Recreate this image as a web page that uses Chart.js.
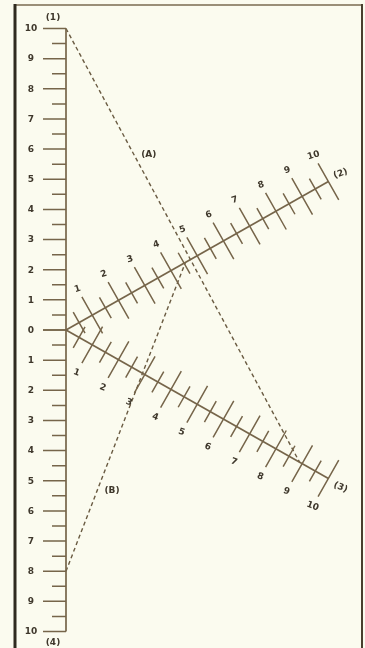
<!DOCTYPE html>
<html>
<head>
<meta charset="utf-8">
<script src="https://cdn.jsdelivr.net/npm/chart.js@4.4.1/dist/chart.umd.min.js"></script>
<style>
  html, body { margin: 0; padding: 0; background: #fbfbef; }
  #wrap { width: 365px; height: 648px; }
</style>
</head>
<body>
<div id="wrap"><canvas id="nomo" width="365" height="648"></canvas></div>
<script>
// scale values (same graduation on all four scales)
const tickValues = [0, 0.5, 1, 1.5, 2, 2.5, 3, 3.5, 4, 4.5, 5, 5.5, 6, 6.5, 7, 7.5, 8, 8.5, 9, 9.5, 10];
const tickLabels = ["0", "1", "2", "3", "4", "5", "6", "7", "8", "9", "10"];
const scaleNames = ["(1)", "(2)", "(3)", "(4)"];

// the two example readings
const readingNames = ["(A)", "(B)"];
const readingFromScale = [1, 4];
const readingFrom = [10, 8];
const readingToScale = [3, 2];
const readingTo = [8.9, 4.55];

const INK = "#76654a";
const TEXT = "#3f382c";
const UNIT = 30.15;            // px per scale step
const ORIGIN = { x: 66, y: 330 };
const ANGLE = 29.5 * Math.PI / 180;
const C = Math.cos(ANGLE), S = Math.sin(ANGLE);

// point on scale n (1 up, 4 down, 2 up-right, 3 down-right) at value v, in chart units
function onScale(n, v) {
  if (n === 1) return { x: 0, y: v };
  if (n === 4) return { x: 0, y: -v };
  if (n === 2) return { x: v * C, y: v * S };
  return { x: v * C, y: -v * S };
}
// unit normal pointing to the label side
function normal(n) {
  if (n === 1 || n === 4) return { x: -1, y: 0 };
  if (n === 2) return { x: -S, y: C };
  return { x: -S, y: -C };
}

function axisData(n) {
  return [onScale(n, 0), onScale(n, 10)];
}

function tickData(n) {
  const pts = [];
  const nv = normal(n);
  tickValues.forEach(v => {
    if (v === 0 && (n === 2 || n === 3)) return;
    const major = Number.isInteger(v);
    const p = onScale(n, v);
    if (n === 1 || n === 4) {
      const len = (major ? 23 : 14) / UNIT;
      pts.push(p, { x: p.x + nv.x * len, y: p.y }, { x: null, y: null });
    } else {
      const len = (major ? 21 : 12) / UNIT;
      pts.push({ x: p.x + nv.x * len, y: p.y + nv.y * len },
               { x: p.x - nv.x * len, y: p.y - nv.y * len },
               { x: null, y: null });
    }
  });
  return pts;
}

const datasets = [];
[1, 2, 3, 4].forEach(n => {
  datasets.push({ data: axisData(n), borderColor: INK, borderWidth: 1.7 });
  datasets.push({ data: tickData(n), borderColor: INK, borderWidth: 1.5 });
});
readingNames.forEach((name, i) => {
  datasets.push({
    label: name,
    data: [onScale(readingFromScale[i], readingFrom[i]), onScale(readingToScale[i], readingTo[i])],
    borderColor: "#6a5b42", borderWidth: 1.4, borderDash: [4, 3]
  });
});
datasets.forEach(d => { d.showLine = true; d.pointRadius = 0; d.spanGaps = false; d.fill = false; });

function text(ctx, str, x, y, rot) {
  ctx.save();
  ctx.translate(x, y);
  ctx.rotate(rot || 0);
  ctx.fillText(str, 0, 0);
  ctx.restore();
}

const paperPlugin = {
  id: "paper",
  beforeDraw(chart) {
    const ctx = chart.ctx;
    ctx.save();
    ctx.fillStyle = "#fbfbef";
    ctx.fillRect(0, 0, chart.width, chart.height);
    ctx.strokeStyle = "#7a6a50";
    ctx.lineWidth = 1.5;
    ctx.beginPath();
    ctx.moveTo(14, 5); ctx.lineTo(362, 5);
    ctx.stroke();
    ctx.strokeStyle = "#4a3f2e";
    ctx.lineWidth = 2;
    ctx.beginPath();
    ctx.moveTo(362, 4); ctx.lineTo(362, 648);
    ctx.stroke();
    ctx.strokeStyle = "#2f2a1f";
    ctx.lineWidth = 3;
    ctx.beginPath();
    ctx.moveTo(15, 4); ctx.lineTo(15, 648);
    ctx.stroke();
    ctx.restore();
  }
};

const labelPlugin = {
  id: "labels",
  afterDatasetsDraw(chart) {
    const ctx = chart.ctx;
    const xs = chart.scales.x, ys = chart.scales.y;
    const px = p => ({ x: xs.getPixelForValue(p.x), y: ys.getPixelForValue(p.y) });
    ctx.save();
    ctx.fillStyle = TEXT;
    ctx.font = "600 9px 'DejaVu Sans'";
    ctx.textAlign = "center";
    ctx.textBaseline = "middle";
    [1, 2, 3, 4].forEach(n => {
      const nv = normal(n);
      tickLabels.forEach(lab => {
        const v = Number(lab);
        if (v === 0 && n !== 1) return;
        const p = px(onScale(n, v));
        if (n === 1 || n === 4) {
          text(ctx, lab, p.x - 35, p.y + 0.5);
        } else if (n === 2) {
          text(ctx, lab, p.x + nv.x * 30, p.y - nv.y * 30, -0.3);
        } else {
          text(ctx, lab, p.x + nv.x * 32, p.y - nv.y * 32, 0.35);
        }
      });
      // scale name
      const end = px(onScale(n, 10));
      if (n === 1) text(ctx, scaleNames[0], end.x - 13, end.y - 11);
      if (n === 4) text(ctx, scaleNames[3], end.x - 13, end.y + 11);
      if (n === 2) text(ctx, scaleNames[1], end.x + 14 * C, end.y - 14 * S - 1, -0.35);
      if (n === 3) text(ctx, scaleNames[2], end.x + 14 * C, end.y + 14 * S + 2, 0.4);
    });
    // reading names beside their dashed lines
    readingNames.forEach((name, i) => {
      const a = px(onScale(readingFromScale[i], readingFrom[i]));
      const b = px(onScale(readingToScale[i], readingTo[i]));
      const t = i === 0 ? 0.29 : 0.26;
      text(ctx, name, a.x + (b.x - a.x) * t + 15, a.y + (b.y - a.y) * t);
    });
    ctx.restore();
  }
};

new Chart(document.getElementById("nomo"), {
  type: "scatter",
  data: { datasets: datasets },
  options: {
    responsive: false,
    animation: false,
    layout: { padding: 0 },
    plugins: { legend: { display: false }, tooltip: { enabled: false } },
    scales: {
      x: { type: "linear", display: false, min: -ORIGIN.x / UNIT, max: (365 - ORIGIN.x) / UNIT },
      y: { type: "linear", display: false, min: -(648 - ORIGIN.y) / UNIT, max: ORIGIN.y / UNIT }
    }
  },
  plugins: [paperPlugin, labelPlugin]
});
</script>
</body>
</html>
